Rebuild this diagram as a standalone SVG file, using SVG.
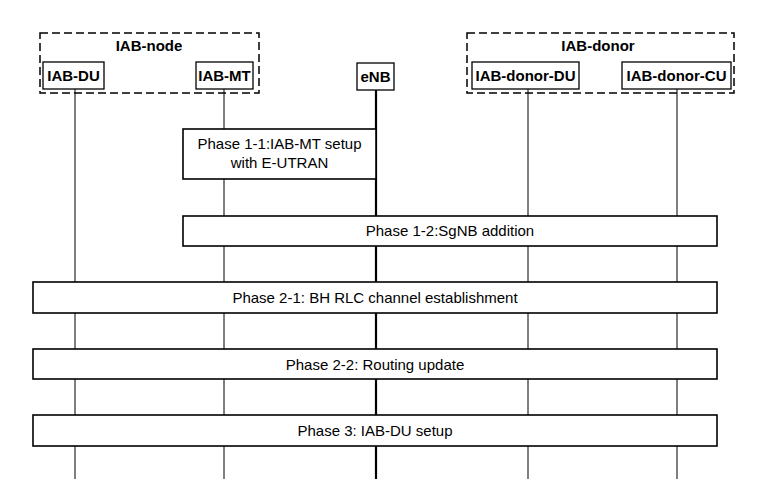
<svg xmlns="http://www.w3.org/2000/svg" width="759" height="493" viewBox="0 0 759 493">
<style>
text{font-family:"Liberation Sans",Arial,sans-serif;font-size:15px;fill:#000;text-anchor:middle}
.b{font-weight:bold}
.grp{fill:none;stroke:#000;stroke-width:1.5;stroke-dasharray:8 4}
.hdr{fill:#fff;stroke:#000;stroke-width:1.3}
.ph{fill:#fff;stroke:#000;stroke-width:1.6}
.ll{stroke:#000;stroke-width:1}
.llt{stroke:#000;stroke-width:2.2}
</style>
<rect width="759" height="493" fill="#fff"/>
<g id="connectors">
<line class="ll" x1="75" y1="89" x2="75" y2="479"/>
<line class="ll" x1="224" y1="89" x2="224" y2="479"/>
<line class="llt" x1="376" y1="90" x2="376" y2="479"/>
<line class="ll" x1="528" y1="89" x2="528" y2="479"/>
<line class="ll" x1="677" y1="89" x2="677" y2="479"/>
</g>
<g id="iab-node">
<rect class="grp" x="40" y="33" width="219" height="60"/>
<text class="b" x="149" y="51">IAB-node</text>
</g>
<g id="iab-donor">
<rect class="grp" x="467" y="33" width="267" height="60"/>
<text class="b" x="598" y="51">IAB-donor</text>
</g>
<g id="iab-du">
<rect class="hdr" x="43" y="62" width="61" height="27"/>
<text class="b" x="73.5" y="81">IAB-DU</text>
</g>
<g id="iab-mt">
<rect class="hdr" x="196" y="62" width="57" height="27"/>
<text class="b" x="224.5" y="81">IAB-MT</text>
</g>
<g id="enb">
<rect class="hdr" x="357" y="63" width="37" height="27"/>
<text class="b" x="375.5" y="82">eNB</text>
</g>
<g id="iab-donor-du">
<rect class="hdr" x="472" y="62" width="107" height="27"/>
<text class="b" x="525.5" y="81">IAB-donor-DU</text>
</g>
<g id="iab-donor-cu">
<rect class="hdr" x="622" y="62" width="109" height="27"/>
<text class="b" x="676.5" y="81">IAB-donor-CU</text>
</g>
<g id="phase-1-1">
<rect class="ph" x="183" y="129" width="193" height="50"/>
<text x="279.5" y="149">Phase 1-1:IAB-MT setup</text>
<text x="279.5" y="168">with E-UTRAN</text>
</g>
<g id="phase-1-2">
<rect class="ph" x="183" y="216" width="534" height="30"/>
<text x="450" y="236">Phase 1-2:SgNB addition</text>
</g>
<g id="phase-2-1">
<rect class="ph" x="33" y="282" width="684" height="31"/>
<text x="375" y="303">Phase 2-1: BH RLC channel establishment</text>
</g>
<g id="phase-2-2">
<rect class="ph" x="33" y="349" width="684" height="30"/>
<text x="375" y="369.5">Phase 2-2: Routing update</text>
</g>
<g id="phase-3">
<rect class="ph" x="33" y="415" width="684" height="31"/>
<text x="375" y="436">Phase 3: IAB-DU setup</text>
</g>
</svg>
